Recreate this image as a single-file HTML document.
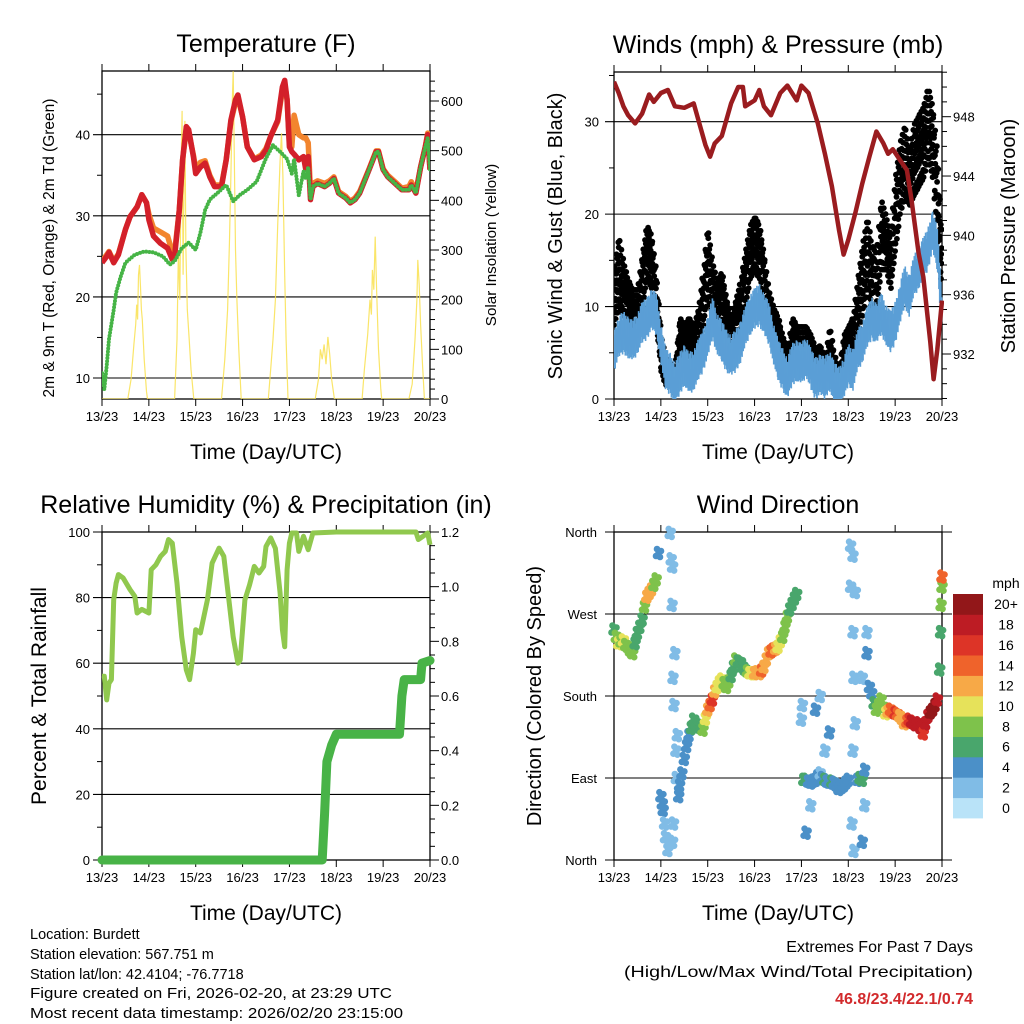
<!DOCTYPE html>
<html><head><meta charset="utf-8"><style>
html,body{margin:0;padding:0;background:#fff;}
svg{display:block;font-family:"Liberation Sans",sans-serif;}
</style></head><body>
<svg id="chart" width="1024" height="1024" viewBox="0 0 1024 1024" xmlns="http://www.w3.org/2000/svg">
<rect width="1024" height="1024" fill="#fff"/>
<g id="g-temp"></g>
<g id="g-wind"></g>
<g id="g-rh"></g>
<g id="g-dir"></g>
<g font-size="14.5" fill="#000">
<text x="30" y="939">Location: Burdett</text>
<text x="30" y="959">Station elevation: 567.751 m</text>
<text x="30" y="979">Station lat/lon: 42.4104; -76.7718</text>
<text x="30" y="998" textLength="362" lengthAdjust="spacingAndGlyphs">Figure created on Fri, 2026-02-20, at 23:29 UTC</text>
<text x="30" y="1018" textLength="373" lengthAdjust="spacingAndGlyphs">Most recent data timestamp: 2026/02/20 23:15:00</text>
</g>
<g text-anchor="end">
<text x="973" y="952" font-size="16">Extremes For Past 7 Days</text>
<text x="973" y="977" font-size="16" textLength="349" lengthAdjust="spacingAndGlyphs">(High/Low/Max Wind/Total Precipitation)</text>
<text x="973" y="1004" font-size="16" font-weight="bold" fill="#d22a2c">46.8/23.4/22.1/0.74</text>
</g>
</svg>
<script>
// ---------- DATA ----------
const dayLabels = ["13/23","14/23","15/23","16/23","17/23","18/23","19/23","20/23"];
// Temperature 2m (red): [day, degF]
const temp2m = [[0,24.2],[0.1,25],[0.15,25.5],[0.25,24.2],[0.35,25.2],[0.5,28.3],[0.6,29.9],[0.75,31.1],[0.85,32.6],[0.95,31.6],[1.0,29.5],[1.1,27.5],[1.25,26.6],[1.4,26],[1.5,24.6],[1.55,25],[1.65,30.7],[1.72,36.9],[1.8,41],[1.85,40.6],[1.95,37.3],[2.0,35.2],[2.1,36],[2.2,36.5],[2.3,34.8],[2.4,33.6],[2.55,33.6],[2.65,36.9],[2.75,41.8],[2.85,44.3],[2.9,44.9],[3.0,42.2],[3.1,38.5],[3.25,36.9],[3.4,37.3],[3.5,38.1],[3.6,39.8],[3.75,41.8],[3.85,45.9],[3.9,46.7],[3.95,44.3],[4.0,38.5],[4.05,37.9],[4.1,37.6],[4.2,36.9],[4.3,37.3],[4.35,35.7],[4.4,37.3],[4.45,32],[4.5,33.6],[4.6,34],[4.75,33.6],[4.85,34],[4.95,34.6],[5.05,32.8],[5.2,32.2],[5.3,31.6],[5.4,32],[5.5,32.8],[5.7,35.7],[5.85,37.9],[5.9,37.9],[6.0,35.7],[6.1,34.8],[6.25,34],[6.4,33.2],[6.55,33.2],[6.6,33.8],[6.7,32.8],[6.8,36],[6.9,38.5],[6.95,40],[7.0,35.7]];
// Temperature 9m (orange)
const temp9m = [[0,24.4],[0.1,25.2],[0.15,25.6],[0.25,24.4],[0.35,25.3],[0.5,28.3],[0.6,29.9],[0.75,31.1],[0.85,32.6],[0.95,31.6],[1.0,30.2],[1.1,28.5],[1.25,28],[1.4,27.5],[1.5,25.5],[1.55,25.5],[1.65,30.7],[1.72,36.9],[1.8,40.6],[1.85,40.3],[1.95,37.5],[2.0,35.8],[2.1,36.6],[2.2,36.8],[2.3,35],[2.4,33.8],[2.55,33.8],[2.65,36.9],[2.75,41.6],[2.85,44],[2.9,44.6],[3.0,42.2],[3.1,38.5],[3.25,37],[3.4,37.5],[3.5,38.3],[3.6,39.8],[3.75,41.6],[3.85,45.5],[3.9,46.3],[3.95,44.3],[4.0,38.8],[4.05,38.5],[4.1,42.4],[4.2,40],[4.3,39.6],[4.35,39.6],[4.4,39],[4.45,33],[4.5,34],[4.6,34.3],[4.75,34],[4.85,34.3],[4.95,34.8],[5.05,33],[5.2,32.4],[5.3,31.8],[5.4,32.2],[5.5,33],[5.7,35.8],[5.85,38],[5.9,38],[6.0,35.8],[6.1,35],[6.25,34.2],[6.4,33.4],[6.55,33.6],[6.6,34.2],[6.7,33],[6.8,36],[6.9,38.5],[6.95,40.2],[7.0,35.7]];
// Dewpoint 2m (green)
const dewpoint = [[0,10.6],[0.05,8.6],[0.1,11.5],[0.15,14.8],[0.25,18.4],[0.3,20.5],[0.4,22.5],[0.5,24.2],[0.7,25.2],[0.9,25.6],[1.1,25.5],[1.3,25],[1.45,24],[1.55,24.4],[1.7,26],[1.85,26.7],[2.0,25.8],[2.1,27.9],[2.2,30.7],[2.3,32],[2.5,33],[2.65,33.8],[2.8,31.8],[2.95,32.6],[3.1,33.2],[3.3,34.2],[3.5,37.1],[3.65,38.7],[3.8,37.9],[3.95,37],[4.05,35.2],[4.1,37],[4.2,32.5],[4.3,35.5],[4.35,34.5],[4.4,36],[4.45,32],[4.5,33.6],[4.6,34],[4.75,33.6],[4.85,34],[4.95,34.6],[5.05,32.8],[5.2,32.2],[5.3,31.6],[5.4,32],[5.5,32.8],[5.7,35.7],[5.85,37.9],[5.9,37.9],[6.0,35.7],[6.1,34.8],[6.25,34],[6.4,33.2],[6.55,33.2],[6.6,33.8],[6.7,32.8],[6.8,36],[6.9,38.5],[6.95,39.6],[7.0,35.7]];
// Solar insolation (yellow) W/m2
const solar = [[0,0],[0.55,0],[0.62,40],[0.68,110],[0.72,150],[0.74,190],[0.76,160],[0.78,250],[0.8,270],[0.82,230],[0.84,180],[0.86,160],[0.9,80],[0.95,15],[0.97,0],[1.55,0],[1.6,120],[1.63,300],[1.66,200],[1.69,480],[1.71,580],[1.73,250],[1.75,420],[1.77,560],[1.79,300],[1.82,180],[1.86,120],[1.9,60],[1.96,0],[2.55,0],[2.62,80],[2.68,180],[2.72,320],[2.75,450],[2.78,600],[2.8,660],[2.82,520],[2.85,300],[2.88,200],[2.92,100],[2.97,0],[3.55,0],[3.6,60],[3.65,120],[3.7,200],[3.75,350],[3.8,480],[3.83,535],[3.86,450],[3.9,250],[3.93,120],[3.97,0],[4.55,0],[4.62,40],[4.66,100],[4.7,80],[4.74,110],[4.78,70],[4.82,125],[4.86,90],[4.9,40],[4.96,0],[5.55,0],[5.6,60],[5.67,130],[5.72,200],[5.75,170],[5.77,260],[5.8,220],[5.83,327],[5.86,220],[5.9,100],[5.95,20],[5.97,0],[6.55,0],[6.62,30],[6.68,120],[6.72,200],[6.74,280],[6.77,230],[6.8,150],[6.84,70],[6.88,0],[7,0]];
// Station pressure (maroon) mb
const pressure = [[0,950.35],[0.1,949.6],[0.2,948.7],[0.3,948.1],[0.45,947.55],[0.6,948.2],[0.75,949.5],[0.85,949],[1.0,949.6],[1.15,949.8],[1.3,948.7],[1.5,948.6],[1.7,948.9],[1.8,947.8],[1.95,946.1],[2.05,945.3],[2.15,946.2],[2.3,946.7],[2.5,948.9],[2.65,950],[2.75,950],[2.8,948.7],[3.0,949.1],[3.1,949.8],[3.2,948.7],[3.35,948.1],[3.55,949.6],[3.7,950.1],[3.9,949.1],[4.0,950.1],[4.15,949.6],[4.35,947.55],[4.5,945.5],[4.65,943.3],[4.8,940.4],[4.9,938.7],[5.0,939.7],[5.15,941.5],[5.3,943.5],[5.45,945.3],[5.6,947],[5.75,946.2],[5.85,945.5],[5.95,945.8],[6.1,945.1],[6.25,944.4],[6.35,942.4],[6.5,938.8],[6.6,937.2],[6.75,932.8],[6.82,930.3],[6.9,932.3],[7.0,935.6]];
// Sonic wind (blue) mph, every 0.1 day
const windSpeed = [5,6.5,7,6.5,6,7,8,8.5,9.5,9,6,3,2.5,1.5,2.5,3.5,2.5,3,4,5,6.5,8.5,7,6,5,4.5,5,6,7.5,9,9.5,10,9,8,6,4,3,2,3.5,4,3.5,4.5,3,2,2.5,2,3,1.5,1,2,3.5,3,5,6,7.5,8.5,8,9,8,7,8,10,12,11,13,14,15,16,18,16,9];
// Gust (black) mph center and spread, every 0.1 day
const gust = [11,14,12,11,10,10,13,16,15,11,5,3,3,2,7,6,7,6,8,11,15,12,10,11,9,7,9,10,13,16,17,16,13,10,8,7,5,4,7,6,6,6,5,4,4,3,6,3,2,5,6,7,10,13,16,13,13,18,17,15,20,24,26,24,26,27,28,30,28,22,14];
const gustSpread = [3,4,3,2,2,2,3,3,3,3,2,1.5,1,1.5,2,2,2,2,2,3,4,3,3,3,2,2,2,3,3,3,3,3,3,2,2,2,2,1.5,2,2,2,2,2,1.5,2,1.5,2,2,1,2,2,2,3,4,4,4,3,4,3,3,4,4,4,3,4,4,4,4,4,5,3];
// RH (%)
const rh = [[0,56],[0.05,56],[0.1,48.8],[0.15,53.9],[0.2,55],[0.25,79.3],[0.3,84.4],[0.35,87],[0.45,86],[0.6,82.4],[0.7,80.4],[0.75,75.3],[0.85,76.4],[1.0,75.3],[1.05,88.5],[1.15,90],[1.25,92.6],[1.35,94.1],[1.42,97.7],[1.5,96.6],[1.6,84.4],[1.7,68.1],[1.8,58],[1.87,55],[1.95,63],[2.0,70.2],[2.1,69.2],[2.25,79.3],[2.35,90.5],[2.5,95.1],[2.6,92.6],[2.7,80.3],[2.8,68],[2.9,60],[2.95,61],[3.05,79.3],[3.15,83.9],[3.25,89.5],[3.35,87.5],[3.45,89.5],[3.5,95.6],[3.6,98.2],[3.7,95],[3.8,81.4],[3.85,70.2],[3.9,65],[3.95,88.5],[4.0,96.6],[4.05,99.7],[4.15,99.7],[4.2,94.1],[4.3,98.7],[4.4,94.6],[4.5,99.7],[5.0,100],[6.7,100],[6.75,97.7],[6.85,98.7],[6.95,99.7],[7.0,96.1]];
// Total precipitation (in)
const precip = [[0,0],[4.7,0],[4.75,0.17],[4.8,0.36],[4.9,0.42],[5.0,0.46],[6.35,0.46],[6.4,0.6],[6.45,0.66],[6.8,0.66],[6.83,0.72],[7.0,0.73]];
// Wind direction: [day, degrees, speed mph]
const windDir = [[0,253,6],[0.05,245,7],[0.1,238,9],[0.15,240,8],[0.2,241,9],[0.25,236,8],[0.3,234,8],[0.35,230,7],[0.4,227,7],[0.45,238,6],[0.5,249,6],[0.55,256,6],[0.6,264,6],[0.65,278,8],[0.7,289,11],[0.75,293,12],[0.8,297,11],[0.85,302,8],[0.9,308,7],[0.95,337,4],[1.0,70,3],[1.03,62,3],[1.05,55,3],[1.08,40,2],[1.1,25,2],[1.15,11,2],[1.2,359,1],[1.22,330,1],[1.25,322,1],[1.24,280,1],[1.26,200,1],[1.28,170,1],[1.3,227,1],[1.32,120,1],[1.35,137,1],[1.33,90,2],[1.25,20,2],[1.27,40,2],[1.38,70,4],[1.4,82,4],[1.45,95,4],[1.5,111,4],[1.55,125,4],[1.6,137,4],[1.65,145,5],[1.7,154,5],[1.75,150,6],[1.8,147,6],[1.85,145,6],[1.9,143,7],[1.95,155,9],[2.0,165,11],[2.05,170,14],[2.1,176,15],[2.15,185,12],[2.2,190,10],[2.25,195,9],[2.3,198,9],[2.35,194,8],[2.4,190,8],[2.45,196,7],[2.5,202,6],[2.55,212,6],[2.6,220,7],[2.65,218,6],[2.7,217,5],[2.75,212,6],[2.8,209,6],[2.85,207,8],[2.9,205,9],[2.95,205,10],[3.0,205,11],[3.05,206,12],[3.1,205,12],[3.15,208,13],[3.2,212,12],[3.25,220,12],[3.3,227,12],[3.35,229,13],[3.4,231,13],[3.45,232,11],[3.5,234,10],[3.55,240,9],[3.6,245,8],[3.65,256,7],[3.7,267,7],[3.75,275,6],[3.8,281,6],[3.85,287,5],[3.9,292,5],[4.0,154,1],[4.02,170,2],[4.05,88,6],[4.1,88,5],[4.15,86,4],[4.2,85,3],[4.25,87,4],[4.3,88,4],[4.35,92,3],[4.4,95,2],[4.45,90,3],[4.5,88,5],[4.55,86,4],[4.6,85,4],[4.65,86,5],[4.7,85,4],[4.75,82,3],[4.8,78,4],[4.85,80,4],[4.9,82,3],[4.95,85,4],[5.0,88,4],[4.5,120,2],[4.6,140,3],[4.4,180,2],[4.3,165,3],[4.2,60,2],[4.1,30,3],[5.05,345,2],[5.1,334,1],[5.15,294,2],[5.05,300,1],[5.1,250,2],[5.12,200,2],[5.15,150,1],[5.1,120,2],[5.08,40,2],[5.12,10,1],[5.2,88,4],[5.25,90,5],[5.3,88,5],[5.35,99,4],[5.35,60,2],[5.3,20,3],[5.4,250,2],[5.3,200,2],[5.4,227,3],[5.45,190,4],[5.5,183,4],[5.55,172,6],[5.6,165,7],[5.65,170,7],[5.7,176,8],[5.75,168,8],[5.8,161,9],[5.85,163,11],[5.9,165,13],[5.95,163,14],[6.0,161,15],[6.05,160,13],[6.1,158,12],[6.15,155,12],[6.2,150,12],[6.25,152,14],[6.3,154,16],[6.35,152,17],[6.4,150,18],[6.45,148,18],[6.5,150,18],[6.55,145,17],[6.6,139,16],[6.65,150,17],[6.7,158,18],[6.75,162,19],[6.8,165,20],[6.85,170,20],[6.9,176,18],[6.95,209,6],[6.97,250,6],[6.98,280,7],[7.0,300,8],[7.0,311,14]];
const speedColors = ["#b9e3f8","#80bce6","#4b90c8","#49a66c","#7ec24b","#e6e25a","#f7a947","#ef632b","#dd3427","#bd1c24","#921719"];
const speedLabels = ["0","2","4","6","8","10","12","14","16","18","20+"];

// ---------- HELPERS ----------
const NS="http://www.w3.org/2000/svg";
function mk(tag,attrs,parent){const e=document.createElementNS(NS,tag);for(const k in attrs)e.setAttribute(k,attrs[k]);parent.appendChild(e);return e;}
function txt(parent,x,y,s,size,anchor,extra){const t=mk('text',Object.assign({x:x,y:y,'font-size':size,'text-anchor':anchor||'middle'},extra||{}),parent);t.textContent=s;return t;}
function xs(px0){return t=>px0+t*(328/7);}
function lin(v0,v1,p0,p1){return v=>p0+(v-v0)*(p1-p0)/(v1-v0);}
function path(pts,fx,fy){return pts.map((p,i)=>(i?'L':'M')+fx(p[0]).toFixed(1)+','+fy(p[1]).toFixed(1)).join('');}

function frame(g,X0,Y0,X1,Y1,title,xTitle){
  const X=xs(X0);
  mk('rect',{x:X0,y:Y0,width:X1-X0,height:Y1-Y0,fill:'none',stroke:'#000','stroke-width':1.3},g);
  for(let d=0;d<=7;d++){
    const x=X(d);
    const tk=mk('line',{x1:x,x2:x,y1:Y1,y2:Y1+7,stroke:'#000','stroke-width':1},g);
    
    
    mk('line',{x1:x,x2:x,y1:Y0-7,y2:Y0,stroke:'#000','stroke-width':1},g);
    const l=txt(g,x,Y1+22,dayLabels[d],13);
    
    
  }
  const tt=txt(g,(X0+X1)/2,Y0-19,title,25);
  
  
  const xt=txt(g,(X0+X1)/2,Y1+60,xTitle,21);
  
  
  return X;
}
function hgrid(g,X0,X1,y){const l=mk('line',{x1:X0-9,x2:X1,y1:y,y2:y,stroke:'#000','stroke-width':1.1},g);}

// ---------- PANEL 1: TEMPERATURE ----------
(function(){
  const g=document.getElementById('g-temp');
  const X0=102,X1=430,Y0=71,Y1=399;
  const X=frame(g,X0,Y0,X1,Y1,'Temperature (F)','Time (Day/UTC)');
  const Y=lin(10,40,378,134.7), YS=lin(0,600,399,101);
  [10,20,30,40].forEach(v=>{hgrid(g,X0,X1,Y(v));const l=txt(g,X0-12,Y(v)+5,String(v),13,'end');});
  [15,25,35,45].forEach(v=>mk('line',{x1:X0-5,x2:X0,y1:Y(v),y2:Y(v),stroke:'#000'},g));
  for(let v=0;v<=640;v+=20){const y=YS(v);if(y<Y0)break;mk('line',{x1:X1,x2:X1+(v%100?5:9),y1:y,y2:y,stroke:'#000'},g);}
  [0,100,200,300,400,500,600].forEach(v=>{const l=txt(g,X1+11,YS(v)+5,String(v),13,'start');});
  const cp=mk('clipPath',{id:'cp1'},g);mk('rect',{x:X0,y:Y0,width:X1-X0,height:Y1-Y0},cp);
  const pg=mk('g',{'clip-path':'url(#cp1)'},g);
  const s=mk('path',{d:path(solar,X,YS),fill:'none',stroke:'#f9e14f','stroke-width':1.2,opacity:0.85},pg);
  
  const o=mk('path',{d:path(temp9m,X,Y),fill:'none',stroke:'#f2852e','stroke-width':5.5,'stroke-linejoin':'round'},pg);
  
  const r=mk('path',{d:path(temp2m,X,Y),fill:'none',stroke:'#d3202a','stroke-width':5.5,'stroke-linejoin':'round'},pg);
  
  const gr=mk('path',{d:path(dewpoint,X,Y),fill:'none',stroke:'#46b446','stroke-width':4,'stroke-dasharray':'0 3.2','stroke-linecap':'round'},pg);
  
  const a=txt(g,0,0,'2m & 9m T (Red, Orange) & 2m Td (Green)',15.5,'middle',{transform:'translate(54,248) rotate(-90)'});
  
  const b=txt(g,0,0,'Solar Insolation (Yellow)',15.2,'middle',{transform:'translate(496,245) rotate(-90)'});
  
})();

// ---------- PANEL 2: WIND & PRESSURE ----------
(function(){
  const g=document.getElementById('g-wind');
  const X0=614,X1=942,Y0=72,Y1=399;
  const X=frame(g,X0,Y0,X1,Y1,'Winds (mph) & Pressure (mb)','Time (Day/UTC)');
  const Y=lin(0,30,399,121.7), YP=lin(932,948,354,116.7);
  [0,10,20,30].forEach(v=>{if(v)hgrid(g,X0,X1,Y(v));else mk('line',{x1:X0-9,x2:X0,y1:Y(v),y2:Y(v),stroke:'#000'},g);const l=txt(g,X0-15,Y(v)+5,String(v),13,'end');});
  [5,15,25,35].forEach(v=>mk('line',{x1:X0-5,x2:X0,y1:Y(v),y2:Y(v),stroke:'#000'},g));
  for(let v=929;v<=951;v++){const y=YP(v);if(y<Y0||y>Y1)continue;mk('line',{x1:X1,x2:X1+(v%4?5:9),y1:y,y2:y,stroke:'#000'},g);}
  [932,936,940,944,948].forEach(v=>{const l=txt(g,X1+11,YP(v)+5,String(v),13,'start');});
  const cp=mk('clipPath',{id:'cp2'},g);mk('rect',{x:X0,y:Y0-2,width:X1-X0+2,height:Y1-Y0+4},cp);
  const pg=mk('g',{'clip-path':'url(#cp2)'},g);
  const gd=mk('g',{fill:'#000'},pg);
  
  const offs=[-1,0.3,-0.4,0.9,-0.8,0.1,0.6,-0.2];
  for(let i=0;i<gust.length-1;i++){
    for(let k=0;k<6;k++){
      const f=k/6,t=(i+f)*0.1;
      const c=gust[i]+(gust[i+1]-gust[i])*f, sp=gustSpread[i]+(gustSpread[i+1]-gustSpread[i])*f;
      for(let j=0;j<4;j++){
        const o=offs[(i*6+k*3+j*2)%8];
        mk('circle',{cx:X(t+j*0.004).toFixed(1),cy:Y(Math.max(0,c+o*sp)).toFixed(1),r:2.9},gd);
      }
    }
  }
  const wg=mk('g',{stroke:'#5b9fd6','stroke-width':1.6},pg);
  
  const jit=[1,-0.6,0.3,-1,0.8,-0.3,0.5,-0.8,0.1,0.9,-0.5,0.2];
  for(let i=0;i<windSpeed.length-1;i++){
    for(let k=0;k<12;k++){
      const f=k/12,t=(i+f)*0.1;
      const c=windSpeed[i]+(windSpeed[i+1]-windSpeed[i])*f;
      const j=jit[(i*5+k)%12];
      const lo=Math.max(0,c-1.3+j*0.8), hi=c+1.3+j*1.2;
      mk('line',{x1:X(t).toFixed(1),x2:X(t).toFixed(1),y1:Y(lo).toFixed(1),y2:Y(hi).toFixed(1)},wg);
    }
  }
  const pl=mk('path',{d:path(pressure,X,YP),fill:'none',stroke:'#9a1c1f','stroke-width':4.5,'stroke-linejoin':'round'},pg);
  
  const a=txt(g,0,0,'Sonic Wind & Gust (Blue, Black)',20,'middle',{transform:'translate(562,236) rotate(-90)'});
  
  const b=txt(g,0,0,'Station Pressure (Maroon)',20,'middle',{transform:'translate(1015,236) rotate(-90)'});
  
})();

// ---------- PANEL 3: RH & PRECIP ----------
(function(){
  const g=document.getElementById('g-rh');
  const X0=102,X1=430,Y0=532,Y1=860;
  const X=frame(g,X0,Y0,X1,Y1,'Relative Humidity (%) & Precipitation (in)','Time (Day/UTC)');
  const Y=lin(0,100,860,532), YR=lin(0,1.2,860,532);
  [0,20,40,60,80,100].forEach(v=>{if(v>0&&v<100)hgrid(g,X0,X1,Y(v));else mk('line',{x1:X0-9,x2:X0,y1:Y(v),y2:Y(v),stroke:'#000'},g);const l=txt(g,X0-12,Y(v)+5,String(v),13,'end');});
  [10,30,50,70,90].forEach(v=>mk('line',{x1:X0-5,x2:X0,y1:Y(v),y2:Y(v),stroke:'#000'},g));
  for(let i=0;i<=24;i++){const v=i*0.05,y=YR(v);mk('line',{x1:X1,x2:X1+(i%4?5:9),y1:y,y2:y,stroke:'#000'},g);}
  ['0.0','0.2','0.4','0.6','0.8','1.0','1.2'].forEach((s,i)=>{const l=txt(g,X1+11,YR(i*0.2)+5,s,13,'start');});
  const r=mk('path',{d:path(rh,X,Y),fill:'none',stroke:'#90c84e','stroke-width':5,'stroke-linejoin':'round'},g);
  
  const p=mk('path',{d:path(precip,X,YR),fill:'none',stroke:'#48b347','stroke-width':9,'stroke-linejoin':'round','stroke-linecap':'round'},g);
  
  const a=txt(g,0,0,'Percent & Total Rainfall',21,'middle',{transform:'translate(46,696) rotate(-90)'});
  
})();

// ---------- PANEL 4: WIND DIRECTION ----------
(function(){
  const g=document.getElementById('g-dir');
  const X0=614,X1=942,Y0=532,Y1=860;
  const X=frame(g,X0,Y0,X1,Y1,'Wind Direction','Time (Day/UTC)');
  const Y=lin(0,360,860,532);
  const dirNames=['North','East','South','West','North'];
  dirNames.forEach((s,i)=>{const v=i*90;if(i>0&&i<4)hgrid(g,X0,X1+10,Y(v));else mk('line',{x1:X0-9,x2:X1+10,y1:Y(v),y2:Y(v),stroke:'#000'},g);const l=txt(g,X0-17,Y(v)+5,s,13,'end');});
  const pg=mk('g',{},g);
  
  const off=[[0,0],[1.5,4],[-1.5,-4],[2.5,-2],[-2.5,3]];
  windDir.forEach(d=>{
    const c=speedColors[Math.min(10,Math.round(d[2]/2))];
    off.forEach(o=>{
      mk('circle',{cx:(X(d[0])+o[0]).toFixed(1),cy:(Y(d[1])+o[1]).toFixed(1),r:3.3,fill:c},pg);
    });
  });
  const cb=mk('g',{},g);
  
  const bh=224/11;
  speedColors.forEach((c,i)=>{
    const y=818-(i+1)*bh;
    mk('rect',{x:953,y:y.toFixed(1),width:30,height:(bh+0.4).toFixed(1),fill:c},cb);
    const l=txt(cb,1006,y+bh/2+5,speedLabels[i],14,'middle');
    
  });
  const u=txt(cb,1006,588,'mph',14,'middle');
  const a=txt(g,0,0,'Direction (Colored By Speed)',20,'middle',{transform:'translate(541,696) rotate(-90)'});
  
})();
</script>
</body></html>
